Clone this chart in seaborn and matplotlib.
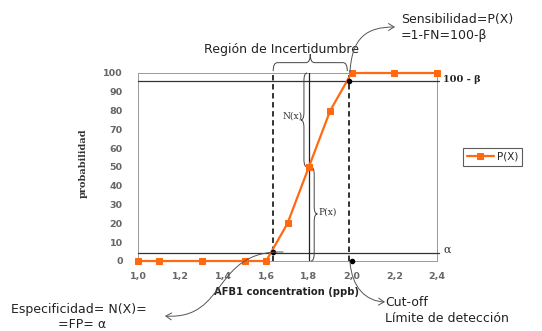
import numpy as np
import pandas as pd
import matplotlib
matplotlib.use("Agg")
import matplotlib.pyplot as plt
import seaborn as sns
from matplotlib.path import Path
from matplotlib.patches import PathPatch, FancyArrowPatch

# ---- data ----
concentration = [1.0, 1.1, 1.3, 1.5, 1.6, 1.7, 1.8, 1.9, 2.0, 2.2, 2.4]
probability = [0, 0, 0, 0, 0, 20, 50, 80, 100, 100, 100]
x_ticks = [1.0, 1.2, 1.4, 1.6, 1.8, 2.0, 2.2, 2.4]
x_tick_labels = ["1,0", "1,2", "1,4", "1,6", "1,8", "2,0", "2,2", "2,4"]
y_ticks = [0, 10, 20, 30, 40, 50, 60, 70, 80, 90, 100]
alpha_level = 4
beta_level = 96
x_low = 1.633
x_cut = 1.99
x_mid = 1.8

ORANGE = "#ff6a10"
GRAY = "#666666"

sns.set_theme(style="white")
plt.rcParams['font.family'] = ['DejaVu Sans']

fig = plt.figure(figsize=(5.42, 3.31), dpi=100)
ax = fig.add_axes([138/542, 1-261/331, (437-138)/542, (261-73)/331])

df = pd.DataFrame({"conc": concentration, "prob": probability})
sns.lineplot(data=df, x="conc", y="prob", ax=ax, color=ORANGE, marker="s",
             markersize=5, markeredgecolor=ORANGE, linewidth=1.6,
             label="P(X)", clip_on=False, zorder=5)

ax.set_xlim(1.0, 2.4)
ax.set_ylim(0, 100)
ax.set_xticks(x_ticks)
ax.set_xticklabels(x_tick_labels)
ax.set_yticks(y_ticks)
ax.tick_params(axis="both", labelsize=6.8, labelcolor=GRAY, colors=GRAY,
               length=3, width=0.6, direction="in")
ax.tick_params(axis="x", pad=8)
ax.tick_params(axis="y", pad=11)
for lab in ax.get_xticklabels() + ax.get_yticklabels():
    lab.set_fontweight("bold")
for s in ax.spines.values():
    s.set_color("#999999")
    s.set_linewidth(0.7)
ax.set_xlabel("")
ax.set_ylabel("")

# horizontal reference lines
ax.plot([1.0, 2.41], [beta_level, beta_level], color="#333333", lw=0.9, clip_on=False, zorder=3)
ax.plot([1.0, 2.41], [alpha_level, alpha_level], color="#333333", lw=0.9, clip_on=False, zorder=3)
# verticals
ax.plot([x_low, x_low], [0, 100], color="#222222", lw=1.3, ls=(0, (3, 2)), zorder=4)
ax.plot([x_cut, x_cut], [0, 100], color="#222222", lw=1.3, ls=(0, (3, 2)), zorder=4)
ax.plot([x_mid, x_mid], [0, 100], color="#222222", lw=0.9, zorder=4)
# black dots
ax.plot([x_low, x_cut, 2.0], [alpha_level + 1, beta_level, 0], "o", color="black",
        ms=3, zorder=6, clip_on=False)


def vbrace(x, y0, y1, w, r=4):
    ym = (y0 + y1) / 2
    s = 1 if y1 > y0 else -1
    v = [(x, y0), (x + w/2, y0), (x + w/2, y0 + s*r), (x + w/2, ym - s*r),
         (x + w/2, ym), (x + w, ym), (x + w/2, ym), (x + w/2, ym + s*r),
         (x + w/2, y1 - s*r), (x + w/2, y1), (x, y1)]
    c = [Path.MOVETO, Path.CURVE3, Path.CURVE3, Path.LINETO,
         Path.CURVE3, Path.CURVE3, Path.CURVE3, Path.CURVE3,
         Path.LINETO, Path.CURVE3, Path.CURVE3]
    ax.add_patch(PathPatch(Path(v, c), fill=False, lw=0.7, color="#444444",
                           clip_on=False, zorder=4))


def hbrace(x0, x1, y, h, r=0.02):
    xm = (x0 + x1) / 2
    v = [(x0, y), (x0, y + h/2), (x0 + r, y + h/2), (xm - r, y + h/2),
         (xm, y + h/2), (xm, y + h), (xm, y + h/2), (xm + r, y + h/2),
         (x1 - r, y + h/2), (x1, y + h/2), (x1, y)]
    c = [Path.MOVETO, Path.CURVE3, Path.CURVE3, Path.LINETO,
         Path.CURVE3, Path.CURVE3, Path.CURVE3, Path.CURVE3,
         Path.LINETO, Path.CURVE3, Path.CURVE3]
    ax.add_patch(PathPatch(Path(v, c), fill=False, lw=0.7, color="#444444",
                           clip_on=False, zorder=4))


vbrace(1.792, 100, 50, -0.03)
vbrace(1.81, 50, 0, 0.03)
hbrace(x_low, x_cut - 0.01, 101, 9)

ax.text(1.77, 77, "N(x)", family="DejaVu Serif", fontsize=6.5, ha="right",
        va="center", color="#333333")
ax.text(1.843, 26, "P(x)", family="DejaVu Serif", fontsize=6.5, ha="left",
        va="center", color="#333333")

# right side labels
fig.text(443/542, 1-79/331, "100 - β", family="DejaVu Serif", fontsize=7,
         fontweight="bold", va="center", color="#222222")
fig.text(443/542, 1-250/331, "α", family="DejaVu Serif", fontsize=8,
         va="center", color="#333333")

# axis labels
fig.text(83/542, 1-163/331, "probabilidad", family="DejaVu Serif", fontsize=7,
         fontweight="bold", rotation=90, ha="center", va="center", color="#333333")
fig.text(287/542, 1-292/331, "AFB1 concentration (ppb)", fontsize=7.2,
         fontweight="bold", ha="center", va="center", color="#222222")

# annotations
fig.text(282/542, 1-50/331, "Región de Incertidumbre", fontsize=9,
         ha="center", va="center", color="#222222")
fig.text(401/542, 1-20/331, "Sensibilidad=P(X)", fontsize=9, ha="left",
         va="center", color="#222222")
fig.text(401/542, 1-35/331, "=1-FN=100-β", fontsize=9, ha="left",
         va="center", color="#222222")
fig.text(385/542, 1-302/331, "Cut-off", fontsize=9, ha="left",
         va="center", color="#222222")
fig.text(385/542, 1-319/331, "Límite de detección", fontsize=9, ha="left",
         va="center", color="#222222")
fig.text(11/542, 1-309/331, "Especificidad= N(X)=", fontsize=9, ha="left",
         va="center", color="#222222")
fig.text(82/542, 1-325/331, "=FP= α", fontsize=9, ha="center",
         va="center", color="#222222")


def curve_arrow(pts):
    verts = [(px/542, 1-py/331) for px, py in pts]
    path = Path(verts, [Path.MOVETO, Path.CURVE4, Path.CURVE4, Path.CURVE4])
    fig.patches.append(FancyArrowPatch(path=path, arrowstyle="->,head_length=4,head_width=2.5",
                                       color="#555555", lw=0.7,
                                       transform=fig.transFigure, zorder=7))


curve_arrow([(350, 72), (352, 38), (366, 27), (395, 27)])
curve_arrow([(283, 252), (212, 250), (228, 320), (165, 316)])
curve_arrow([(350, 262), (352, 288), (366, 301), (385, 302)])

# legend
leg = ax.legend(loc="center left", bbox_to_anchor=(463/542, 1-157/331),
                bbox_transform=fig.transFigure, fontsize=7.5, frameon=True,
                fancybox=False, edgecolor="#333333", handlelength=2.6,
                borderpad=0.35, handletextpad=0.3, borderaxespad=0)
leg.get_frame().set_linewidth(0.8)

fig.savefig("out.png", dpi=100)
